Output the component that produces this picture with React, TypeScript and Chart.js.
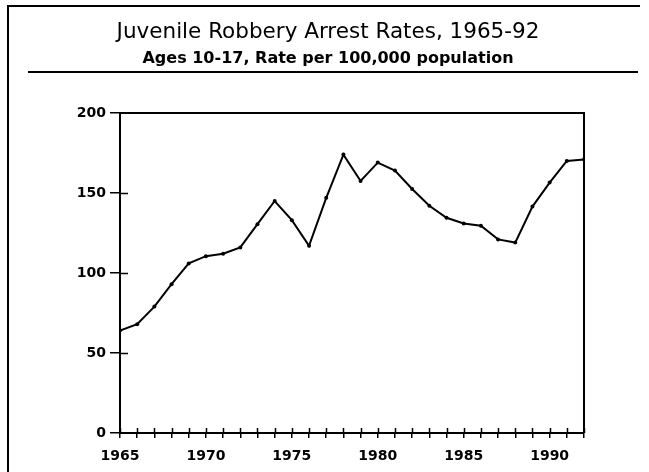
import React, { useEffect, useRef } from "react";
import { Chart, registerables } from "chart.js";

Chart.register(...registerables);

const years: number[] = [
  1965, 1966, 1967, 1968, 1969, 1970, 1971, 1972, 1973, 1974, 1975, 1976, 1977, 1978,
  1979, 1980, 1981, 1982, 1983, 1984, 1985, 1986, 1987, 1988, 1989, 1990, 1991, 1992,
];
const rates: number[] = [
  64, 68, 79, 93, 106, 110.5, 112, 116, 130.5, 145, 133, 117, 147, 174,
  157.5, 169, 164, 152.5, 142, 134.5, 131, 129.5, 121, 119, 141.5, 156.5, 170, 171,
];
const titleText = "Juvenile Robbery Arrest Rates, 1965-92";
const subtitleText = "Ages 10-17, Rate per 100,000 population";
const yTicks: number[] = [0, 50, 100, 150, 200];
const xLabelYears: number[] = [1965, 1970, 1975, 1980, 1985, 1990];

const FONT = "'DejaVu Sans', 'Liberation Sans', Arial, sans-serif";

const framePlugin = {
  id: "frame",
  afterDraw(chart: any) {
    const { ctx, chartArea: a, scales } = chart;
    ctx.save();
    ctx.strokeStyle = "#000";
    ctx.lineWidth = 2;
    // page border (top and left)
    ctx.beginPath();
    ctx.moveTo(8, 472);
    ctx.lineTo(8, 6);
    ctx.lineTo(640, 6);
    ctx.stroke();
    // separator under header
    ctx.beginPath();
    ctx.moveTo(28, 72);
    ctx.lineTo(638, 72);
    ctx.stroke();
    // plot box top and right
    ctx.beginPath();
    ctx.moveTo(a.left, a.top);
    ctx.lineTo(a.right, a.top);
    ctx.lineTo(a.right, a.bottom);
    ctx.stroke();
    // inner parts of ticks
    ctx.lineWidth = 1.5;
    ctx.beginPath();
    for (const t of scales.y.ticks) {
      if (t.value === 0 || t.value === 200) continue;
      const py = Math.round(scales.y.getPixelForValue(t.value)) + 0.5;
      ctx.moveTo(a.left, py);
      ctx.lineTo(a.left + 8, py);
    }
    for (const t of scales.x.ticks) {
      const px = Math.round(scales.x.getPixelForValue(t.value)) + 0.5;
      ctx.moveTo(px, a.bottom);
      ctx.lineTo(px, a.bottom - 5);
    }
    ctx.stroke();
    ctx.restore();
  },
};

export default function App() {
  const ref = useRef<HTMLCanvasElement | null>(null);

  useEffect(() => {
    document.body.style.margin = "0";
    const canvas = ref.current;
    if (!canvas) return;
    const chart = new Chart(canvas, {
      type: "line",
      data: {
        datasets: [
          {
            label: "Rate",
            data: years.map((y, i) => ({ x: y, y: rates[i] })),
            borderColor: "#000",
            backgroundColor: "#000",
            borderWidth: 2,
            pointRadius: 2,
            pointBackgroundColor: "#000",
            pointBorderWidth: 0,
            tension: 0,
          },
        ],
      },
      options: {
        animation: false,
        responsive: false,
        devicePixelRatio: 1,
        layout: { padding: { left: 72, right: 65, top: 0, bottom: 0 } },
        plugins: {
          legend: { display: false },
          tooltip: { enabled: false },
          title: {
            display: true,
            text: titleText,
            color: "#000",
            font: { family: FONT, size: 21.5, weight: "normal" },
            padding: { top: 20, bottom: 0 },
          },
          subtitle: {
            display: true,
            text: subtitleText,
            color: "#000",
            font: { family: FONT, size: 16, weight: "bold" },
            padding: { top: 3, bottom: 45 },
          },
        },
        scales: {
          x: {
            type: "linear",
            min: 1965,
            max: 1992,
            afterFit(scale: any) {
              scale.height = 39;
            },
            ticks: {
              stepSize: 1,
              autoSkip: false,
              maxRotation: 0,
              color: "#000",
              padding: 10,
              font: { family: FONT, size: 14, weight: "bold" },
              callback: (v: any) => (xLabelYears.includes(Number(v)) ? String(v) : ""),
            },
            grid: { drawOnChartArea: false, tickLength: 5, color: "#000", lineWidth: 1.5 },
            border: { color: "#000", width: 2 },
          },
          y: {
            min: 0,
            max: 200,
            afterFit(scale: any) {
              scale.width = 48;
            },
            afterBuildTicks(scale: any) {
              scale.ticks = yTicks.map((v) => ({ value: v }));
            },
            ticks: {
              color: "#000",
              padding: 4,
              font: { family: FONT, size: 14, weight: "bold" },
            },
            grid: { drawOnChartArea: false, tickLength: 10, color: "#000", lineWidth: 1.5 },
            border: { color: "#000", width: 2 },
          },
        },
      },
      plugins: [framePlugin],
    });
    return () => chart.destroy();
  }, []);

  return (
    <div style={{ width: 649, height: 472 }}>
      <canvas ref={ref} width={649} height={472} style={{ display: "block" }} />
    </div>
  );
}
